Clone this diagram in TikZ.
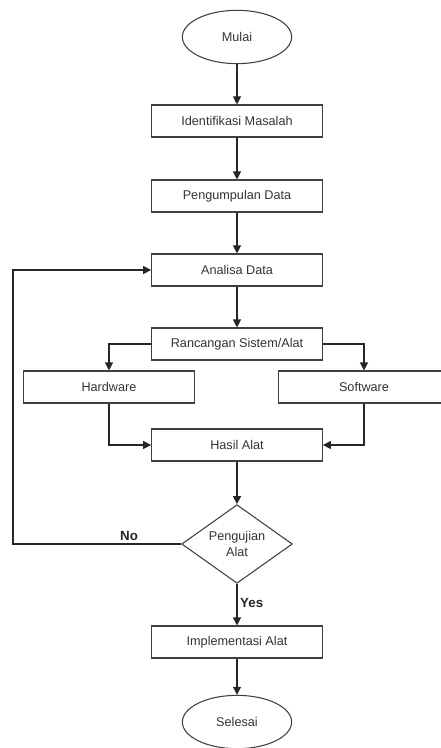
\documentclass[tikz,border=0pt]{standalone}
\usepackage{fontspec}
\setmainfont{Liberation Sans}
\usetikzlibrary{positioning,
				arrows.meta,
				shapes.geometric}

\tikzset{
  proses/.style={draw=black!75, line width=0.8pt, rectangle, minimum width=128pt, minimum height=24pt, inner sep=0pt, text=black!80},
  terminal/.style={draw=black!75, line width=0.8pt, ellipse, minimum width=82pt, minimum height=40pt, inner sep=0pt, text=black!80},
  keputusan/.style={draw=black!75, line width=0.8pt, diamond, aspect=1.42, minimum width=83pt, minimum height=59pt, inner sep=0pt, align=center, text=black!80},
  panah/.style={draw=black!85, line width=0.8pt, -{Triangle[length=6pt,width=6pt]}},
  label/.style={font=\bfseries, text=black!85, inner sep=2pt}
}

\begin{document}
\begin{tikzpicture}[x=0.75pt, y=-0.75pt, font=\fontsize{9.5}{12}\selectfont]
  \useasboundingbox (0,0) rectangle (440,748);
  \node[terminal] (mulai) at (237,37) {Mulai};
  \node[proses] (identifikasi) at (237,121) {Identifikasi Masalah};
  \node[proses] (pengumpulan) at (237,196) {Pengumpulan Data};
  \node[proses] (analisa) at (237,270) {Analisa Data};
  \node[proses] (rancangan) at (237,344) {Rancangan Sistem/Alat};
  \node[proses] (hardware) at (109,387) {Hardware};
  \node[proses] (software) at (364,387) {Software};
  \node[proses] (hasil) at (237,445) {Hasil Alat};
  \node[keputusan] (pengujian) at (237,544) {Pengujian\\Alat};
  \node[proses] (implementasi) at (237,642) {Implementasi Alat};
  \node[terminal] (selesai) at (237,722) {Selesai};
  \coordinate (balik) at (13,544);

  \draw[panah] (mulai) -- (identifikasi);
  \draw[panah] (identifikasi) -- (pengumpulan);
  \draw[panah] (pengumpulan) -- (analisa);
  \draw[panah] (analisa) -- (rancangan);
  \draw[panah] (rancangan.west) -| (hardware.north);
  \draw[panah] (rancangan.east) -| (software.north);
  \draw[panah] (hardware.south) |- (hasil.west);
  \draw[panah] (software.south) |- (hasil.east);
  \draw[panah] (hasil) -- (pengujian);
  \draw[panah] (pengujian.west) -- node[label, above, pos=0.31]{No} (balik) |- (analisa.west);
  \draw[panah] (pengujian.south) -- node[label, right, pos=0.45]{Yes} (implementasi.north);
  \draw[panah] (implementasi) -- (selesai);
\end{tikzpicture}
\end{document}
